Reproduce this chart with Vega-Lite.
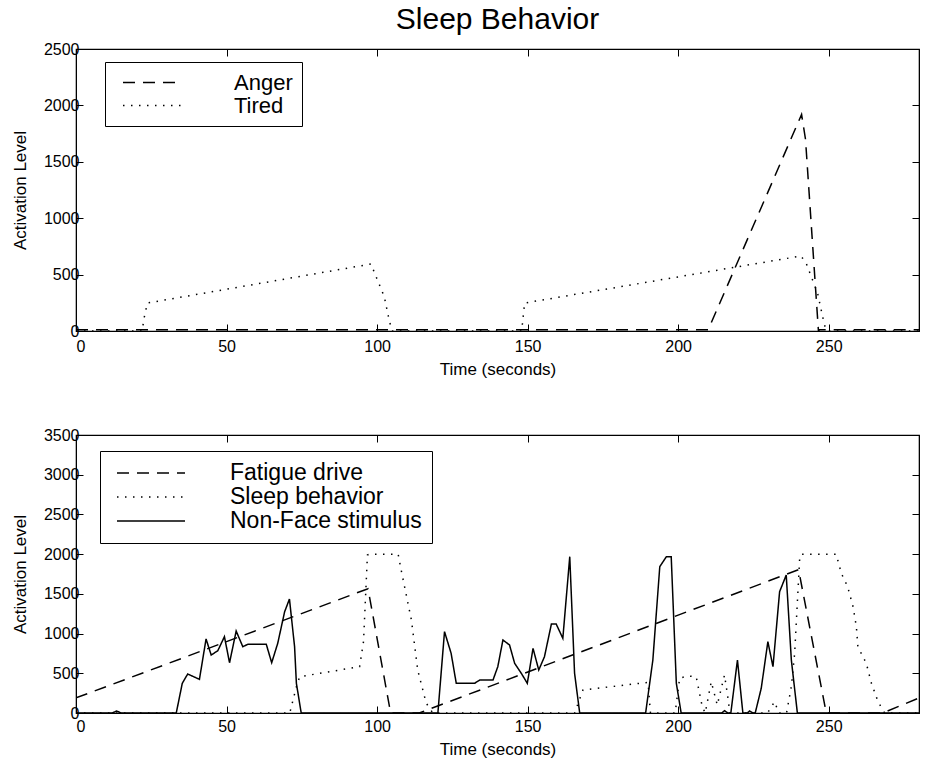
{
  "$schema": "https://vega.github.io/schema/vega-lite/v6.json",
  "padding": {"left": 10, "top": 4, "right": 0, "bottom": 0},
  "background": "white",
  "config": {
    "font": "Liberation Sans",
    "view": {"stroke": "black", "strokeWidth": 1.2},
    "axis": {
      "grid": false, "labelFontSize": 16, "titleFontSize": 17, "titleFontWeight": "normal",
      "labelColor": "black", "titleColor": "black", "tickColor": "black", "domainColor": "black",
      "tickSize": -7, "labelPadding": 4, "labelFont": "Liberation Sans", "titleFont": "Liberation Sans", "format": "d"
    },
    "legend": {"labelFont": "Liberation Sans", "labelColor": "black", "labelLimit": 400}
  },
  "resolve": {"scale": {"strokeDash": "independent"}, "legend": {"strokeDash": "independent"}},
  "datasets": {
    "top": [
      {"s": "Anger", "t": 0, "v": 12}, {"s": "Anger", "t": 210, "v": 12}, {"s": "Anger", "t": 241, "v": 1920},
      {"s": "Anger", "t": 242.3, "v": 1700}, {"s": "Anger", "t": 246.6, "v": 0}, {"s": "Anger", "t": 247, "v": 12},
      {"s": "Anger", "t": 280, "v": 12},
      {"s": "Tired", "t": 0, "v": 0}, {"s": "Tired", "t": 22, "v": 0}, {"s": "Tired", "t": 22.5, "v": 100},
      {"s": "Tired", "t": 23.7, "v": 248}, {"s": "Tired", "t": 98, "v": 594}, {"s": "Tired", "t": 99, "v": 526},
      {"s": "Tired", "t": 102.4, "v": 304}, {"s": "Tired", "t": 104, "v": 97}, {"s": "Tired", "t": 105, "v": 0},
      {"s": "Tired", "t": 148, "v": 0}, {"s": "Tired", "t": 148.3, "v": 70}, {"s": "Tired", "t": 149, "v": 248},
      {"s": "Tired", "t": 240.8, "v": 665}, {"s": "Tired", "t": 242.5, "v": 603}, {"s": "Tired", "t": 246.3, "v": 337},
      {"s": "Tired", "t": 248.6, "v": 53}, {"s": "Tired", "t": 249.5, "v": 0}, {"s": "Tired", "t": 280, "v": 0}
    ],
    "bottom": [
      {"s": "Fatigue drive", "t": 0, "v": 190}, {"s": "Fatigue drive", "t": 97, "v": 1565}, {"s": "Fatigue drive", "t": 104.5, "v": 0},
      {"s": "Fatigue drive", "t": 114, "v": 0}, {"s": "Fatigue drive", "t": 240, "v": 1805}, {"s": "Fatigue drive", "t": 249.2, "v": 0},
      {"s": "Fatigue drive", "t": 268, "v": 0}, {"s": "Fatigue drive", "t": 280, "v": 190},
      {"s": "Sleep behavior", "t": 0, "v": 0}, {"s": "Sleep behavior", "t": 71, "v": 0}, {"s": "Sleep behavior", "t": 73.2, "v": 331},
      {"s": "Sleep behavior", "t": 74.3, "v": 457}, {"s": "Sleep behavior", "t": 94.2, "v": 583}, {"s": "Sleep behavior", "t": 95.5, "v": 900},
      {"s": "Sleep behavior", "t": 96.8, "v": 1990}, {"s": "Sleep behavior", "t": 97.5, "v": 2000}, {"s": "Sleep behavior", "t": 107, "v": 2000},
      {"s": "Sleep behavior", "t": 108, "v": 1800}, {"s": "Sleep behavior", "t": 111.4, "v": 1171}, {"s": "Sleep behavior", "t": 113.5, "v": 541},
      {"s": "Sleep behavior", "t": 116.3, "v": 126}, {"s": "Sleep behavior", "t": 118.5, "v": 0}, {"s": "Sleep behavior", "t": 165.6, "v": 0},
      {"s": "Sleep behavior", "t": 168.4, "v": 290}, {"s": "Sleep behavior", "t": 190, "v": 386}, {"s": "Sleep behavior", "t": 190.8, "v": 0},
      {"s": "Sleep behavior", "t": 199, "v": 0}, {"s": "Sleep behavior", "t": 200.5, "v": 440}, {"s": "Sleep behavior", "t": 203.3, "v": 466},
      {"s": "Sleep behavior", "t": 206, "v": 455}, {"s": "Sleep behavior", "t": 208, "v": 80}, {"s": "Sleep behavior", "t": 209, "v": 0},
      {"s": "Sleep behavior", "t": 211, "v": 394}, {"s": "Sleep behavior", "t": 213, "v": 100}, {"s": "Sleep behavior", "t": 215.4, "v": 478},
      {"s": "Sleep behavior", "t": 216.5, "v": 200}, {"s": "Sleep behavior", "t": 217.2, "v": 0}, {"s": "Sleep behavior", "t": 229.7, "v": 0},
      {"s": "Sleep behavior", "t": 232, "v": 142}, {"s": "Sleep behavior", "t": 233.5, "v": 0}, {"s": "Sleep behavior", "t": 236, "v": 0},
      {"s": "Sleep behavior", "t": 237.6, "v": 331}, {"s": "Sleep behavior", "t": 238.7, "v": 751}, {"s": "Sleep behavior", "t": 240.4, "v": 1968},
      {"s": "Sleep behavior", "t": 241, "v": 2000}, {"s": "Sleep behavior", "t": 252.5, "v": 2000}, {"s": "Sleep behavior", "t": 254.2, "v": 1758},
      {"s": "Sleep behavior", "t": 256.3, "v": 1590}, {"s": "Sleep behavior", "t": 258.1, "v": 1338}, {"s": "Sleep behavior", "t": 259.2, "v": 1087},
      {"s": "Sleep behavior", "t": 259.7, "v": 835}, {"s": "Sleep behavior", "t": 262.5, "v": 625}, {"s": "Sleep behavior", "t": 264.2, "v": 374},
      {"s": "Sleep behavior", "t": 266.4, "v": 142}, {"s": "Sleep behavior", "t": 268.6, "v": 0}, {"s": "Sleep behavior", "t": 280, "v": 0},
      {"s": "Non-Face stimulus", "t": 0, "v": 0}, {"s": "Non-Face stimulus", "t": 12, "v": 0}, {"s": "Non-Face stimulus", "t": 13.5, "v": 25},
      {"s": "Non-Face stimulus", "t": 15, "v": 0}, {"s": "Non-Face stimulus", "t": 33.3, "v": 0}, {"s": "Non-Face stimulus", "t": 35.3, "v": 374},
      {"s": "Non-Face stimulus", "t": 37.1, "v": 491}, {"s": "Non-Face stimulus", "t": 41, "v": 424}, {"s": "Non-Face stimulus", "t": 43.2, "v": 932},
      {"s": "Non-Face stimulus", "t": 44.9, "v": 730}, {"s": "Non-Face stimulus", "t": 47.1, "v": 784}, {"s": "Non-Face stimulus", "t": 49.3, "v": 961},
      {"s": "Non-Face stimulus", "t": 51, "v": 633}, {"s": "Non-Face stimulus", "t": 53.2, "v": 1032}, {"s": "Non-Face stimulus", "t": 55.4, "v": 835},
      {"s": "Non-Face stimulus", "t": 57.1, "v": 865}, {"s": "Non-Face stimulus", "t": 63.2, "v": 865}, {"s": "Non-Face stimulus", "t": 65, "v": 633},
      {"s": "Non-Face stimulus", "t": 67, "v": 877}, {"s": "Non-Face stimulus", "t": 69.3, "v": 1275}, {"s": "Non-Face stimulus", "t": 70.9, "v": 1435},
      {"s": "Non-Face stimulus", "t": 72.6, "v": 835}, {"s": "Non-Face stimulus", "t": 73.2, "v": 374}, {"s": "Non-Face stimulus", "t": 74.8, "v": 0},
      {"s": "Non-Face stimulus", "t": 120.2, "v": 0}, {"s": "Non-Face stimulus", "t": 122.4, "v": 1024}, {"s": "Non-Face stimulus", "t": 124.6, "v": 751},
      {"s": "Non-Face stimulus", "t": 126.3, "v": 374}, {"s": "Non-Face stimulus", "t": 132.4, "v": 374}, {"s": "Non-Face stimulus", "t": 134.1, "v": 415},
      {"s": "Non-Face stimulus", "t": 138.5, "v": 415}, {"s": "Non-Face stimulus", "t": 140.1, "v": 583}, {"s": "Non-Face stimulus", "t": 141.8, "v": 919},
      {"s": "Non-Face stimulus", "t": 144, "v": 856}, {"s": "Non-Face stimulus", "t": 145.7, "v": 625}, {"s": "Non-Face stimulus", "t": 147.9, "v": 500},
      {"s": "Non-Face stimulus", "t": 149.9, "v": 374}, {"s": "Non-Face stimulus", "t": 151.8, "v": 814}, {"s": "Non-Face stimulus", "t": 153.7, "v": 541},
      {"s": "Non-Face stimulus", "t": 155.6, "v": 709}, {"s": "Non-Face stimulus", "t": 157.9, "v": 1120}, {"s": "Non-Face stimulus", "t": 159.5, "v": 1120},
      {"s": "Non-Face stimulus", "t": 161.7, "v": 940}, {"s": "Non-Face stimulus", "t": 164, "v": 1968}, {"s": "Non-Face stimulus", "t": 165.6, "v": 500},
      {"s": "Non-Face stimulus", "t": 167.3, "v": 0}, {"s": "Non-Face stimulus", "t": 189.2, "v": 0}, {"s": "Non-Face stimulus", "t": 191.6, "v": 667},
      {"s": "Non-Face stimulus", "t": 193.9, "v": 1842}, {"s": "Non-Face stimulus", "t": 196.1, "v": 1968}, {"s": "Non-Face stimulus", "t": 197.7, "v": 1968},
      {"s": "Non-Face stimulus", "t": 199.4, "v": 374}, {"s": "Non-Face stimulus", "t": 201, "v": 0}, {"s": "Non-Face stimulus", "t": 214.5, "v": 0},
      {"s": "Non-Face stimulus", "t": 215.4, "v": 30}, {"s": "Non-Face stimulus", "t": 216.5, "v": 0}, {"s": "Non-Face stimulus", "t": 217.5, "v": 0},
      {"s": "Non-Face stimulus", "t": 219.7, "v": 667}, {"s": "Non-Face stimulus", "t": 221.5, "v": 0}, {"s": "Non-Face stimulus", "t": 223, "v": 0},
      {"s": "Non-Face stimulus", "t": 223.7, "v": 25}, {"s": "Non-Face stimulus", "t": 224.8, "v": 0}, {"s": "Non-Face stimulus", "t": 225.6, "v": 0},
      {"s": "Non-Face stimulus", "t": 227.6, "v": 311}, {"s": "Non-Face stimulus", "t": 229.8, "v": 898}, {"s": "Non-Face stimulus", "t": 231.5, "v": 583},
      {"s": "Non-Face stimulus", "t": 233.7, "v": 1527}, {"s": "Non-Face stimulus", "t": 235.9, "v": 1737}, {"s": "Non-Face stimulus", "t": 237.6, "v": 667},
      {"s": "Non-Face stimulus", "t": 239.6, "v": 0}, {"s": "Non-Face stimulus", "t": 280, "v": 0}
    ]
  },
  "spacing": 48,
  "vconcat": [
    {
      "title": {"text": "Sleep Behavior", "fontSize": 30, "fontWeight": "normal", "anchor": "middle", "frame": "group", "offset": 6, "color": "black", "font": "Liberation Sans"},
      "width": 843, "height": 282,
      "data": {"name": "top"},
      "layer": [
        {
          "mark": {"type": "line", "color": "black", "strokeWidth": 1.5, "clip": true},
          "encoding": {
            "x": {"field": "t", "type": "quantitative", "scale": {"domain": [0, 280], "nice": false}, "axis": {"title": "Time (seconds)", "values": [0, 50, 100, 150, 200, 250], "labelPadding": 14, "titlePadding": 7}},
            "y": {"field": "v", "type": "quantitative", "scale": {"domain": [0, 2500], "nice": false}, "axis": {"title": "Activation Level", "values": [0, 500, 1000, 1500, 2000, 2500], "titlePadding": 14}},
            "strokeDash": {"field": "s", "type": "nominal", "scale": {"domain": ["Anger", "Tired"], "range": [[12, 8], [1.5, 6.5]]},
              "legend": {"orient": "none", "legendX": 29, "legendY": 13, "title": null, "symbolType": "stroke", "symbolSize": 3364, "symbolStrokeWidth": 1.5, "symbolStrokeColor": "black", "labelFontSize": 22, "labelOffset": 52, "strokeColor": "black", "fillColor": "white", "padding": 9, "rowPadding": 0, "clipHeight": 23, "symbolOffset": 8}}
          }
        },
        {
          "mark": {"type": "line", "opacity": 0},
          "encoding": {
            "x": {"field": "t", "type": "quantitative", "scale": {"domain": [0, 280], "nice": false}, "axis": {"orient": "top", "labels": false, "title": null, "values": [0, 50, 100, 150, 200, 250]}},
            "y": {"field": "v", "type": "quantitative", "scale": {"domain": [0, 2500], "nice": false}, "axis": {"orient": "right", "labels": false, "title": null, "values": [0, 500, 1000, 1500, 2000, 2500]}}
          }
        }
      ],
      "resolve": {"axis": {"x": "independent", "y": "independent"}}
    },
    {
      "width": 843, "height": 278,
      "data": {"name": "bottom"},
      "layer": [
        {
          "mark": {"type": "line", "color": "black", "strokeWidth": 1.5, "clip": true},
          "encoding": {
            "x": {"field": "t", "type": "quantitative", "scale": {"domain": [0, 280], "nice": false}, "axis": {"title": "Time (seconds)", "values": [0, 50, 100, 150, 200, 250], "labelPadding": 12, "titlePadding": 7}},
            "y": {"field": "v", "type": "quantitative", "scale": {"domain": [0, 3500], "nice": false}, "axis": {"title": "Activation Level", "values": [0, 500, 1000, 1500, 2000, 2500, 3000, 3500], "titlePadding": 14}},
            "strokeDash": {"field": "s", "type": "nominal", "scale": {"domain": ["Fatigue drive", "Sleep behavior", "Non-Face stimulus"], "range": [[12, 8], [1.5, 6.5], [1, 0]]},
              "legend": {"orient": "none", "legendX": 24, "legendY": 16, "title": null, "symbolType": "stroke", "symbolSize": 4624, "symbolStrokeWidth": 1.5, "symbolStrokeColor": "black", "labelFontSize": 23, "labelOffset": 44, "strokeColor": "black", "fillColor": "white", "padding": 10, "rowPadding": 0, "clipHeight": 24, "symbolOffset": 6}}
          }
        },
        {
          "mark": {"type": "line", "opacity": 0},
          "encoding": {
            "x": {"field": "t", "type": "quantitative", "scale": {"domain": [0, 280], "nice": false}, "axis": {"orient": "top", "labels": false, "title": null, "values": [0, 50, 100, 150, 200, 250]}},
            "y": {"field": "v", "type": "quantitative", "scale": {"domain": [0, 3500], "nice": false}, "axis": {"orient": "right", "labels": false, "title": null, "values": [0, 500, 1000, 1500, 2000, 2500, 3000, 3500]}}
          }
        }
      ],
      "resolve": {"axis": {"x": "independent", "y": "independent"}}
    }
  ]
}
